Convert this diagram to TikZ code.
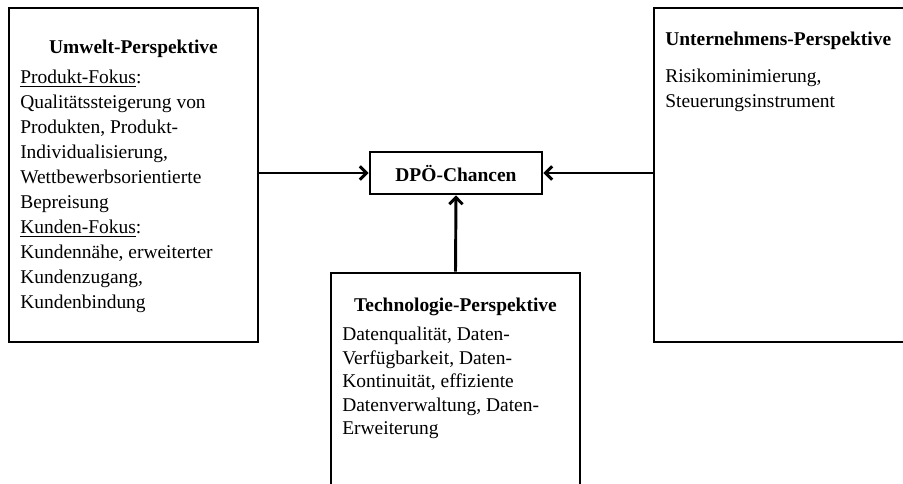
\documentclass[tikz,border=0pt]{standalone}
\usepackage{fontspec}
\setmainfont{Liberation Serif}
\usetikzlibrary{arrows.meta}
\begin{document}
\begin{tikzpicture}[x=0.75pt,y=-0.75pt,
  box/.style={draw,line width=2.2pt,inner sep=0pt,rectangle},
  ttl/.style={font=\fontsize{14.6}{18}\selectfont\bfseries,inner sep=0pt},
  body/.style={font=\fontsize{14.6}{18.75}\selectfont,inner sep=0pt,align=left},
  bodyb/.style={font=\fontsize{14.6}{17.6}\selectfont,inner sep=0pt,align=left},
  arr/.style={line width=2.2pt,-{Straight Barb[length=5pt,width=10pt]}}]
\useasboundingbox (0,0) rectangle (903,484);
\clip (0,0) rectangle (903,484);
\fill[white] (0,0) rectangle (903,484);
% boxes
\node[box,minimum width=186.75pt,minimum height=250.5pt] (L) at (133.5,175) {};
\node[box,minimum width=195.75pt,minimum height=250.5pt] (R) at (784.5,175) {};
\node[box,minimum width=186.75pt,minimum height=170.25pt] (B) at (455.5,386.5) {};
\node[box,minimum width=129pt,minimum height=31.5pt,font=\fontsize{14.6}{18}\selectfont\bfseries] (D) at (456,173) {DPÖ-Chancen};
% texts
\node[ttl,anchor=base] (Lt) at (133.5,54) {Umwelt-Perspektive};
\node[body,anchor=north west] (Lb) at (20,70) {\underline{Produkt-Fokus}:\\
Qualitätssteigerung von\\
Produkten, Produkt-\\
Individualisierung,\\
Wettbewerbsorientierte\\
Bepreisung\\
\underline{Kunden-Fokus}:\\
Kundennähe, erweiterter\\
Kundenzugang,\\
Kundenbindung};
\node[ttl,anchor=base west] (Rt) at (665,46) {Unternehmens-Perspektive};
\node[body,anchor=north west] (Rb) at (665,69) {Risikominimierung,\\
Steuerungsinstrument};
\node[ttl,anchor=base] (Bt) at (455.5,312) {Technologie-Perspektive};
\node[bodyb,anchor=north west] (Bb) at (342,327) {Datenqualität, Daten-\\
Verfügbarkeit, Daten-\\
Kontinuität, effiziente\\
Datenverwaltung, Daten-\\
Erweiterung};
% connectors
\draw[arr] (L.east |- D.west) -- (D.west);
\draw[arr] (R.west |- D.east) -- (D.east);
\draw[arr] (B.north) -- (D.south);
\end{tikzpicture}
\end{document}
